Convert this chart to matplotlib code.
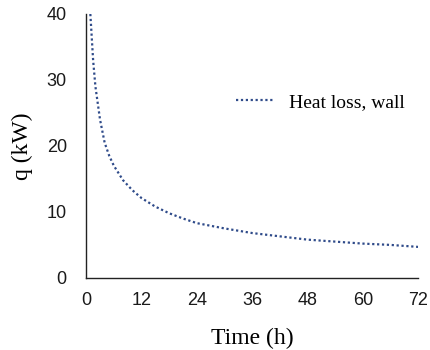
import matplotlib.pyplot as plt

# heat loss through the wall over time
time_h = [0.9, 1.5, 2, 3, 4, 5, 6, 8, 10, 12, 15, 18, 21, 24, 30, 36, 42, 48, 54, 60, 66, 72]
q_kw = [40, 33, 29, 24, 20.5, 18.5, 17, 14.8, 13.3, 12.1, 10.8, 9.8, 9.0, 8.3, 7.5, 6.8, 6.3, 5.8, 5.5, 5.2, 5.0, 4.7]
x_ticks = [0, 12, 24, 36, 48, 60, 72]
y_ticks = [0, 10, 20, 30, 40]

fig = plt.figure(figsize=(4.31, 3.5), dpi=100)
ax = fig.add_axes([0.2, 0.206, 0.77, 0.754])

ax.plot(time_h, q_kw, linestyle=(0, (1, 1.2)), color='#2F4B8A', linewidth=1.6, label='Heat loss, wall')

ax.set_xlim(0, 72)
ax.set_ylim(0, 40)
ax.set_xticks(x_ticks)
ax.set_yticks(y_ticks)
for s in ['top', 'right']:
    ax.spines[s].set_visible(False)
for s in ['left', 'bottom']:
    ax.spines[s].set_linewidth(1.0)
    ax.spines[s].set_color('#222222')
ax.tick_params(axis='both', length=0, labelsize=13, labelcolor='#1a1a1a')
ax.tick_params(axis='x', pad=10)
ax.tick_params(axis='y', pad=14)
for lab in ax.get_xticklabels() + ax.get_yticklabels():
    lab.set_family('Liberation Sans')

ax.set_xlabel('Time (h)', family='Liberation Serif', fontsize=17, labelpad=14)
ax.set_ylabel('q (kW)', family='Liberation Serif', fontsize=17, labelpad=10)

leg = ax.legend(loc='center left', bbox_to_anchor=(0.40, 0.667), frameon=False,
                prop={'family': 'Liberation Serif', 'size': 14}, handlelength=2.0,
                handletextpad=0.7)

fig.savefig('out.png', dpi=100)
